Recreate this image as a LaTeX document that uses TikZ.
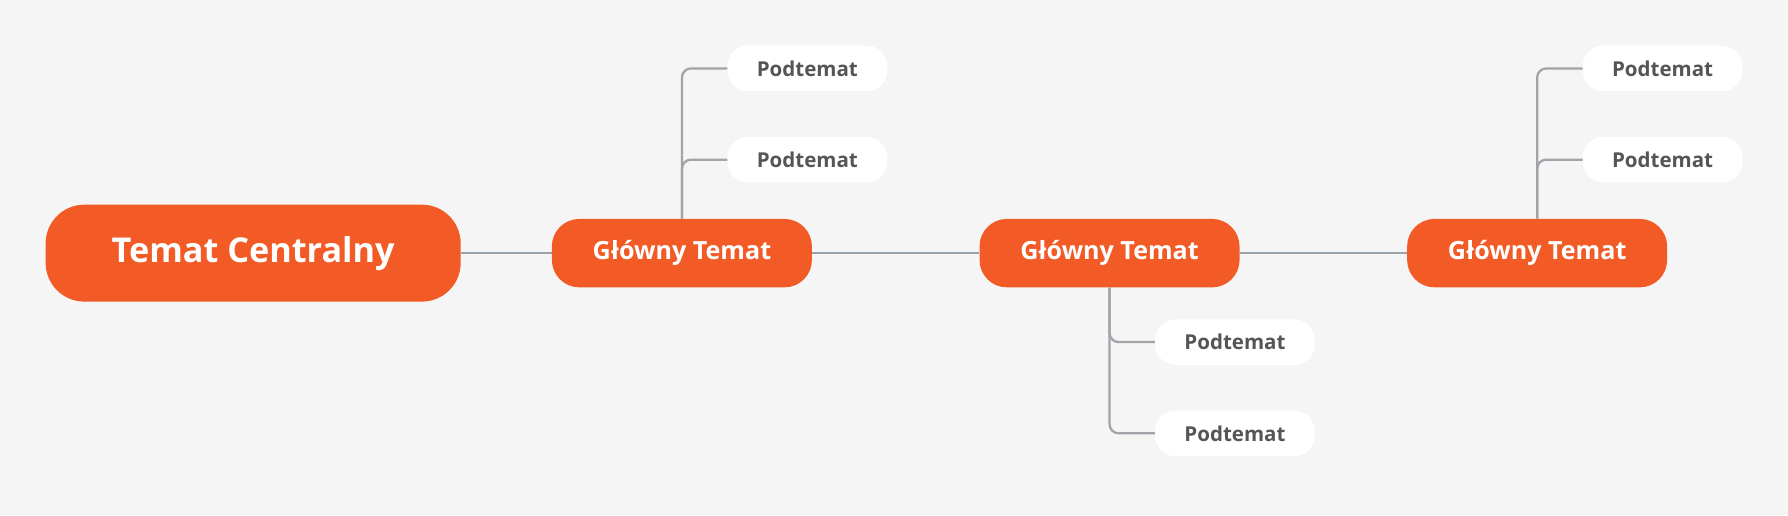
\documentclass[tikz,border=0pt]{standalone}
\usepackage{fontspec}
\setmainfont{Open Sans}
\definecolor{bg}{HTML}{F5F5F5}
\definecolor{org}{HTML}{F25B25}
\definecolor{ln}{HTML}{A0A4A8}
\definecolor{ln2}{HTML}{98A2AA}
\definecolor{txt}{HTML}{555555}
\begin{document}
\begin{tikzpicture}[x=1pt,y=-1pt,
  central/.style={fill=org,rounded corners=34pt,minimum width=364pt,minimum height=85pt,text=white,font=\fontsize{30}{34}\selectfont\bfseries,inner sep=0pt},
  mainbox/.style={fill=org,rounded corners=24pt,minimum width=228pt,minimum height=60pt,text=white,font=\fontsize{22}{26}\selectfont\bfseries,inner sep=0pt},
  subbox/.style={fill=white,rounded corners=18pt,minimum width=140pt,minimum height=40pt,text=txt,font=\fontsize{18}{22}\selectfont\bfseries,inner sep=0pt},
  link/.style={draw=ln2,line width=2pt},
  sublink/.style={draw=ln,line width=2pt,rounded corners=8pt}]
\fill[bg] (0,0) rectangle (1568,452);
\useasboundingbox (0,0) rectangle (1568,452);
\node[central] (c) at (222,222) {\raisebox{-3pt}{Temat Centralny}};
\node[mainbox] (m1) at (598,222) {\raisebox{-3pt}{Główny Temat}};
\node[mainbox] (m2) at (973,222) {\raisebox{-3pt}{Główny Temat}};
\node[mainbox] (m3) at (1348,222) {\raisebox{-3pt}{Główny Temat}};
\node[subbox] (s1) at (708,60) {Podtemat};
\node[subbox] (s2) at (708,140) {Podtemat};
\node[subbox] (s3) at (1083,300) {Podtemat};
\node[subbox] (s4) at (1083,380) {Podtemat};
\node[subbox] (s5) at (1458,60) {Podtemat};
\node[subbox] (s6) at (1458,140) {Podtemat};
\draw[link] (c.east) -- (m1.west);
\draw[link] (m1.east) -- (m2.west);
\draw[link] (m2.east) -- (m3.west);
\draw[sublink] (m1.north) |- (s1.west);
\draw[sublink] (m1.north) |- (s2.west);
\draw[sublink] (m2.south) |- (s3.west);
\draw[sublink] (m2.south) |- (s4.west);
\draw[sublink] (m3.north) |- (s5.west);
\draw[sublink] (m3.north) |- (s6.west);
\end{tikzpicture}
\end{document}
